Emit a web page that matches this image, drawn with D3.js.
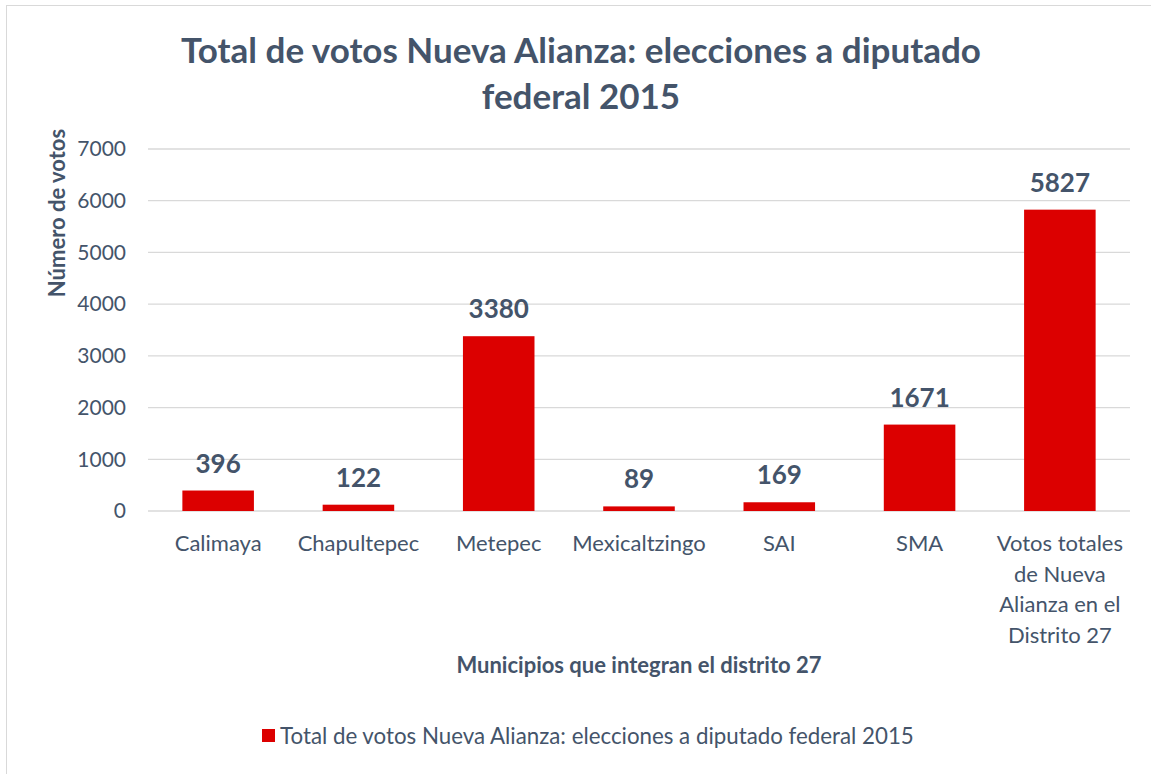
<!DOCTYPE html>
<html>
<head>
<meta charset="utf-8">
<script src="https://cdn.jsdelivr.net/npm/d3@7"></script>
<style>
  body { margin: 0; background: #fff; }
  .chart { width: 1151px; height: 774px; }
  text { font-family: Lato, "Open Sans", sans-serif; fill: #44546A; }
</style>
</head>
<body>
<div class="chart"></div>
<script>
var categories = ["Calimaya", "Chapultepec", "Metepec", "Mexicaltzingo", "SAI", "SMA",
                  "Votos totales de Nueva Alianza en el Distrito 27"];
var votes = [396, 122, 3380, 89, 169, 1671, 5827];
var yTicks = [0, 1000, 2000, 3000, 4000, 5000, 6000, 7000];
var catLines = {
  "Votos totales de Nueva Alianza en el Distrito 27": ["Votos totales", "de Nueva", "Alianza en el", "Distrito 27"]
};
var titleLines = ["Total de votos Nueva Alianza: elecciones a diputado", "federal 2015"];
var xTitle = "Municipios que integran el distrito 27";
var yTitle = "Número de votos";
var legendLabel = "Total de votos Nueva Alianza: elecciones a diputado federal 2015";

var barColor = "#DC0000";

var W = 1151, H = 774,
    margin = {top: 149, right: 21, bottom: 263, left: 148},
    width = W - margin.left - margin.right,
    height = H - margin.top - margin.bottom;

var svg = d3.select(".chart").append("svg").attr("width", W).attr("height", H);

// outer border
svg.append("rect")
    .attr("x", 6.5).attr("y", 5.5)
    .attr("width", W - 6).attr("height", H - 5)
    .attr("fill", "none").attr("stroke", "#D9D9D9");

var x = d3.scaleBand().domain(categories).range([0, width]).paddingInner(0.49).paddingOuter(0.245),
    y = d3.scaleLinear().domain([0, 7000]).range([height, 0]);

var g = svg.append("g").attr("transform", "translate(" + margin.left + "," + margin.top + ")");

// gridlines
g.selectAll(".grid")
  .data(yTicks)
  .enter().append("line")
    .attr("x1", 0).attr("x2", width)
    .attr("y1", function(d) { return y(d); })
    .attr("y2", function(d) { return y(d); })
    .attr("stroke", "#D9D9D9").attr("stroke-width", 1.3);

// y tick labels
var yAxis = g.append("g")
    .call(d3.axisLeft(y).tickValues(yTicks).tickFormat(d3.format("d")).tickSize(0).tickPadding(22));
yAxis.select(".domain").remove();
yAxis.selectAll("text")
    .style("font-family", "Lato, sans-serif")
    .style("font-size", "21px")
    .attr("fill", "#44546A");

// bars
g.selectAll(".bar")
  .data(votes)
  .enter().append("rect")
    .attr("class", "bar")
    .attr("x", function(d, i) { return x(categories[i]); })
    .attr("y", function(d) { return y(d); })
    .attr("width", x.bandwidth())
    .attr("height", function(d) { return height - y(d); })
    .attr("fill", barColor);

// data labels
g.selectAll(".val")
  .data(votes)
  .enter().append("text")
    .attr("class", "val")
    .attr("x", function(d, i) { return x(categories[i]) + x.bandwidth() / 2; })
    .attr("y", function(d) { return y(d) - 18; })
    .attr("text-anchor", "middle")
    .style("font-size", "26px")
    .style("font-weight", "bold")
    .text(function(d) { return d; });

// category labels
var cat = g.selectAll(".cat")
  .data(categories)
  .enter().append("text")
    .attr("class", "cat")
    .attr("text-anchor", "middle")
    .attr("transform", function(d) { return "translate(" + (x(d) + x.bandwidth() / 2) + "," + (height + 40) + ")"; })
    .style("font-size", "22px");
cat.selectAll("tspan")
  .data(function(d) { return catLines[d] || [d]; })
  .enter().append("tspan")
    .attr("x", 0)
    .attr("dy", function(d, i) { return i === 0 ? 0 : 30.5; })
    .text(function(d) { return d; });

// title
svg.append("text")
    .attr("x", 581).attr("y", 63)
    .attr("text-anchor", "middle")
    .style("font-size", "35px")
    .style("font-weight", "bold")
  .selectAll("tspan")
  .data(titleLines)
  .enter().append("tspan")
    .attr("x", 581)
    .attr("dy", function(d, i) { return i === 0 ? 0 : 46; })
    .text(function(d) { return d; });

// axis titles
svg.append("text")
    .attr("transform", "translate(65,213) rotate(-90)")
    .attr("text-anchor", "middle")
    .style("font-size", "22px")
    .style("font-weight", "bold")
    .text(yTitle);

svg.append("text")
    .attr("x", 639).attr("y", 673)
    .attr("text-anchor", "middle")
    .style("font-size", "22px")
    .style("font-weight", "bold")
    .text(xTitle);

// legend
var lg = svg.append("g").attr("transform", "translate(262,729)");
lg.append("rect").attr("width", 13).attr("height", 13).attr("fill", barColor);
lg.append("text").attr("x", 18).attr("y", 15)
    .style("font-size", "22.3px")
    .text(legendLabel);
</script>
</body>
</html>
